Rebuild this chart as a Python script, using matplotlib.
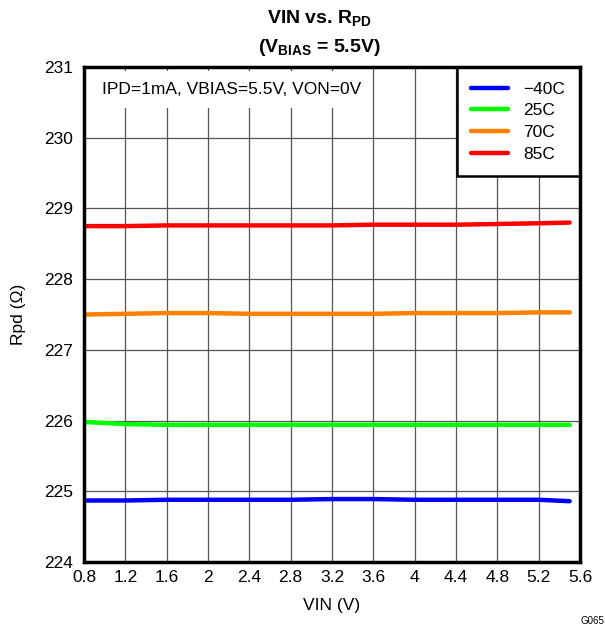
import matplotlib
matplotlib.use('Agg')
import matplotlib.pyplot as plt

plt.rcParams['font.family'] = ['Liberation Sans', 'DejaVu Sans']
plt.rcParams['mathtext.fontset'] = 'custom'
plt.rcParams['mathtext.rm'] = 'Liberation Sans'
plt.rcParams['mathtext.bf'] = 'Liberation Sans:bold'

# data
vin = [0.8, 1.2, 1.6, 2.0, 2.4, 2.8, 3.2, 3.6, 4.0, 4.4, 4.8, 5.2, 5.5]
rpd_m40 = [224.87, 224.87, 224.88, 224.88, 224.88, 224.88, 224.89, 224.89, 224.88, 224.88, 224.88, 224.88, 224.86]
rpd_25 = [225.98, 225.95, 225.94, 225.94, 225.94, 225.94, 225.94, 225.94, 225.94, 225.94, 225.94, 225.94, 225.94]
rpd_70 = [227.50, 227.51, 227.52, 227.52, 227.51, 227.51, 227.51, 227.51, 227.52, 227.52, 227.52, 227.53, 227.53]
rpd_85 = [228.75, 228.75, 228.76, 228.76, 228.76, 228.76, 228.76, 228.77, 228.77, 228.77, 228.78, 228.79, 228.80]
labels = ['\u221240C', '25C', '70C', '85C']
colors = ['#0000ff', '#00ff00', '#ff7f00', '#ff0000']
xticks = [0.8, 1.2, 1.6, 2, 2.4, 2.8, 3.2, 3.6, 4, 4.4, 4.8, 5.2, 5.6]
xticklabels = ['0.8', '1.2', '1.6', '2', '2.4', '2.8', '3.2', '3.6', '4', '4.4', '4.8', '5.2', '5.6']

fig = plt.figure(figsize=(6.05, 6.28), dpi=100)
ax = fig.add_axes([84 / 605, 66 / 628, 496 / 605, 495 / 628])

for ys, lab, c in zip([rpd_m40, rpd_25, rpd_70, rpd_85], labels, colors):
    ax.plot(vin, ys, color=c, lw=3.2, label=lab, solid_capstyle='round')

ax.set_xlim(0.8, 5.6)
ax.set_ylim(224, 231)
ax.set_xticks(xticks)
ax.set_xticklabels(xticklabels)
ax.set_yticks(range(224, 232))
ax.tick_params(length=0, labelsize=12.5)
ax.tick_params(axis='y', pad=8)
ax.tick_params(axis='x', pad=6)
ax.grid(True, color='#555555', lw=0.9)
ax.set_axisbelow(True)
for s in ax.spines.values():
    s.set_linewidth(2.5)
    s.set_zorder(5)

ax.set_xlabel('VIN (V)', fontsize=12.5, va='center')
ax.xaxis.set_label_coords(0.5, -0.088)
ax.set_ylabel('Rpd (\u03a9)', fontsize=12.5, va='center')
ax.yaxis.set_label_coords(-0.133, 0.5)

fig.text(320 / 605, 1 - 24 / 628, 'VIN vs. R$_{\\mathbf{PD}}$',
         fontsize=14, fontweight='bold', ha='center', va='baseline')
fig.text(319 / 605, 1 - 52 / 628, '(V$_{\\mathbf{BIAS}}$ = 5.5V)',
         fontsize=14, fontweight='bold', ha='center', va='baseline')

ax.text(0.036, 0.954, 'IPD=1mA, VBIAS=5.5V, VON=0V', transform=ax.transAxes,
        fontsize=12.5, va='center', ha='left', zorder=2,
        bbox=dict(facecolor='white', edgecolor='none', pad=8))

leg = ax.legend(loc='upper right', fontsize=12.5, frameon=True, fancybox=False,
                borderaxespad=0, handlelength=2.1, labelspacing=0.37,
                handletextpad=0.9, borderpad=0.85)
leg.get_frame().set_edgecolor('black')
leg.get_frame().set_linewidth(1.8)
leg.get_frame().set_alpha(1)
leg.set_zorder(4)

fig.text(604 / 605, 2 / 628, 'G065', fontsize=7, ha='right', va='bottom')

fig.savefig('out.png', dpi=100)
